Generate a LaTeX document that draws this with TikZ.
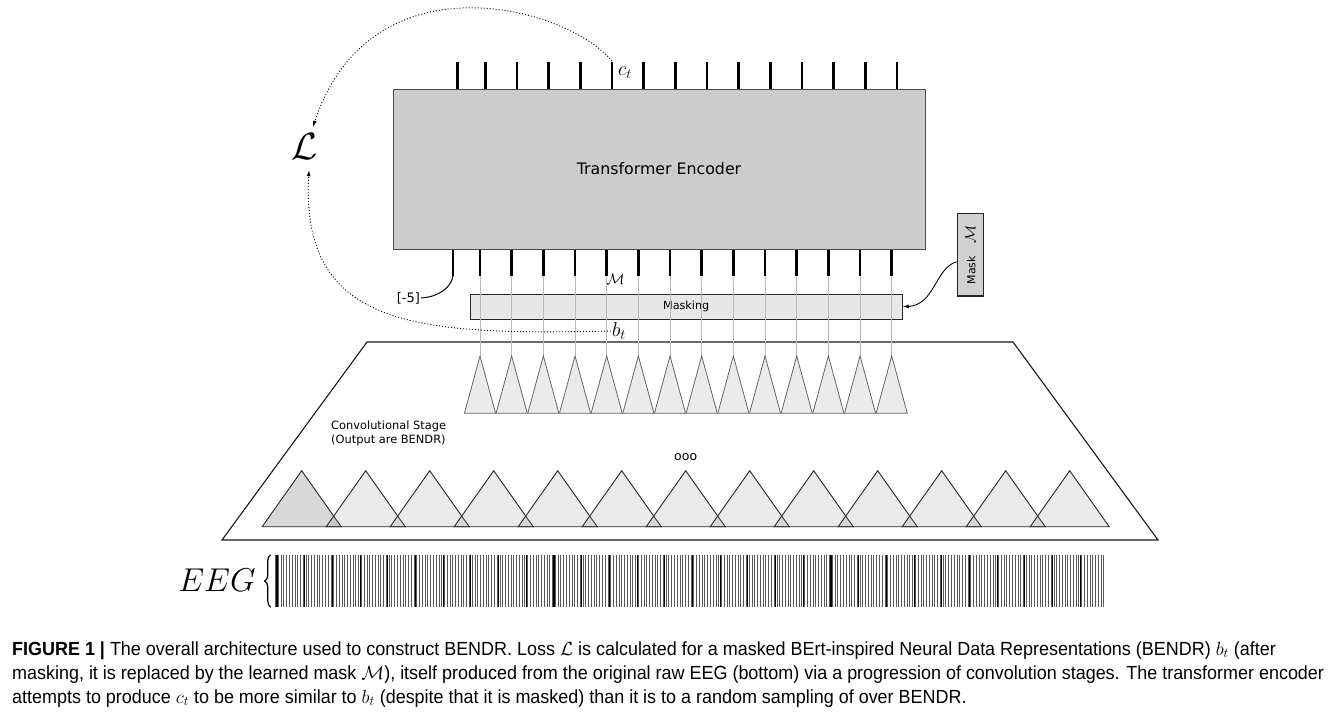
\documentclass[tikz,border=0pt]{standalone}
\usepackage{fix-cm}
\usepackage{fontspec}
\usepackage{graphicx}
\newfontfamily\dejavu{DejaVu Sans}
\newfontfamily\capfont[FakeStretch=0.945]{Liberation Sans}
\usetikzlibrary{arrows.meta, decorations.pathreplacing}
\definecolor{encgray}{HTML}{CCCCCC}
\begin{document}
\begin{tikzpicture}[x=1pt, y=-1pt,
  tick/.style={line width=2.6pt},
  feed/.style={draw=black!27, line width=0.8pt},
  enc/.style={draw=black!70, line width=1pt, fill=encgray, minimum width=532pt,
              minimum height=160pt, font=\dejavu\fontsize{15.8}{19}\selectfont},
  maskbar/.style={draw=black!85, line width=1pt, fill=black!9, minimum width=432pt,
              minimum height=24.7pt, inner sep=0pt, font=\dejavu\fontsize{11.2}{13}\selectfont},
  maskbox/.style={draw=black!85, line width=1.2pt, fill=black!18, minimum width=26pt,
              minimum height=82.7pt, inner sep=0pt, font=\dejavu\fontsize{11}{13}\selectfont},
  lbl/.style={inner sep=0pt, align=left, font=\dejavu\fontsize{11.4}{14}\selectfont},
  sym/.style={inner sep=1pt, font=\fontsize{20}{24}\selectfont},
  loop/.style={dash pattern=on 1pt off 2pt, line width=0.9pt, -{Latex[length=6pt,width=4pt]}},
  smalltri/.style={draw=black!60, line width=0.8pt, fill=black!8},
  bigtri/.style={draw=black!85, line width=0.9pt, fill=black!50, fill opacity=0.16},
  eegline/.style={line width=0.75pt, draw=black!65},
  caption/.style={anchor=base west, inner sep=0pt, font=\capfont\fontsize{19}{24}\selectfont}]

\fill[white] (0,0) rectangle (1330,718);
\useasboundingbox (0,0) rectangle (1330,718);

\draw[line width=1.1pt, draw=black!90] (367,342) -- (1013,342) -- (1158,540) -- (222,540) -- cycle;
\fill[black!50, fill opacity=0.16] (301.7,470.7) -- ++(39.5,56) -- ++(-79,0) -- cycle;
\foreach \k in {0,...,12}
  \draw[bigtri] ({301.7+64*\k},470.7) -- ++(39.5,56) -- ++(-79,0) -- cycle;
\node[lbl, anchor=north west] (conv) at (331,421) {Convolutional Stage\\(Output are BENDR)};
\node[lbl, font=\dejavu\fontsize{12.5}{14}\selectfont] (dots) at (685.7,457) {ooo};

\node[maskbar] (masking) at (686.2,306.7) {Masking};
\foreach \k in {0,...,13} {
  \draw[feed] ({480+31.67*\k},276) -- ({480+31.67*\k},356);
  \draw[smalltri] ({480+31.67*\k},356) -- ++(15.6,57.3) -- ++(-31.2,0) -- cycle;
  \draw[tick] ({480+31.67*\k},249) -- ++(0,27);
}
\draw[tick] (453,249) -- (453,276) coordinate (kink);

\node[enc] (enc) at (659,169) {Transformer Encoder};
\draw[tick] (457.7,62) -- (457.7,89);
\foreach \k in {0,...,13}
  \draw[tick] ({485.3+31.67*\k},62) -- ++(0,27);
\coordinate (ct) at (612,61);

\node[sym] (ctl) at (625,73) {$c_t$};
\node[sym] (bt) at (619,331) {$b_t$};
\node[inner sep=0pt, font=\fontsize{15}{15}\selectfont] (mlbl) at (615.5,279) {$\mathcal{M}$};
\node[inner sep=1pt, font=\fontsize{38}{40}\selectfont] (loss) at (305,147) {$\mathcal{L}$};
\node[inner sep=1pt, font=\dejavu\fontsize{13}{15}\selectfont] (minus5) at (408.3,298) {[-5]};
\node[maskbox] (mask) at (970.3,254.7)
  {\rotatebox{90}{Mask\hspace{13pt}{\fontsize{15}{15}\selectfont$\mathcal{M}$}}};

\draw[loop] (ct) .. controls (565,5) and (370,-45) .. ([shift={(8pt,6pt)}]loss.north);
\draw[loop] (bt.west) .. controls (420,335) and (300,330) .. ([shift={(4pt,-9pt)}]loss.south);
\draw[line width=1pt] (kink) .. controls (451,288) and (438,297) .. (minus5.east);
\draw[line width=0.9pt, -{Latex[length=6pt,width=4pt]}] ([yshift=-7pt]mask.west)
  .. controls (935,268) and (935,305) .. (masking.east);

\node[inner sep=0pt, font=\fontsize{33}{36}\selectfont] (eeglbl) at (217,580) {$EEG$};
\node[inner sep=0pt, minimum width=830pt, minimum height=52pt] (eegbar) at (690,581) {};
\draw[line width=1.2pt, decorate, decoration={brace, amplitude=6pt}]
  ([xshift=-4pt]eegbar.south west) -- ([xshift=-4pt]eegbar.north west);
\foreach \i in {0,...,299}
  \draw[eegline] ({275.5+2.77*\i},555) -- ++(0,52);
\foreach \j in {0,...,29}
  \draw[line width=1.1pt] ({277+27.7*\j},555) -- ++(0,52);

\node[caption] (cap1) at (12,655) {\textbf{FIGURE 1 |} The overall architecture used to construct BENDR. Loss $\mathcal{L}$ is calculated for a masked BErt-inspired Neural Data Representations (BENDR) $b_t$ (after};
\node[caption] (cap2) at (12,679) {masking, it is replaced by the learned mask $\mathcal{M}$), itself produced from the original raw EEG (bottom) via a progression of convolution stages. The transformer encoder};
\node[caption] (cap3) at (12,703) {attempts to produce $c_t$ to be more similar to $b_t$ (despite that it is masked) than it is to a random sampling of over BENDR.};
\end{tikzpicture}
\end{document}
